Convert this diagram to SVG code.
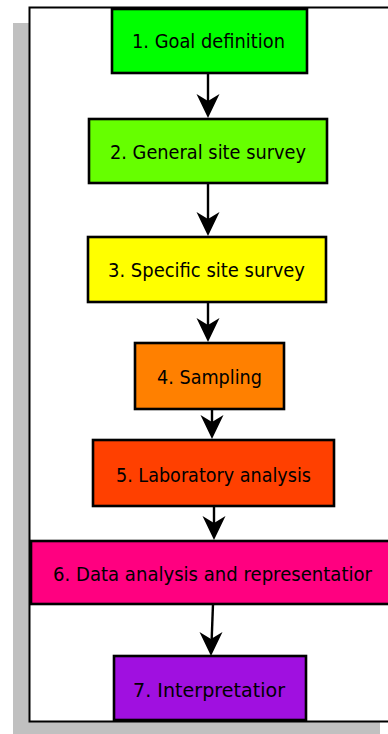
<svg xmlns="http://www.w3.org/2000/svg" width="388" height="734" viewBox="0 0 388 734">
<style>
.box{stroke:#000;stroke-width:2.6}
.lbl{font-family:"DejaVu Sans","Liberation Sans",sans-serif;font-size:19.5px;fill:#000}
.ln{stroke:#000;stroke-width:2.4;fill:none}
.hd{fill:#000}
</style>
<rect x="13" y="23" width="367" height="720" fill="#c0c0c0"/>
<rect x="29.5" y="7.5" width="370" height="714" fill="#fff" stroke="#000" stroke-width="2"/>
<g id="connectors">
<line class="ln" x1="208" y1="73" x2="208" y2="105"/>
<path class="hd" d="M208,118 L196.5,94 L208,101 L219.5,94 Z"/>
<line class="ln" x1="208" y1="183" x2="208" y2="223"/>
<path class="hd" d="M208,236 L196.5,212 L208,219 L219.5,212 Z"/>
<line class="ln" x1="208" y1="302" x2="208" y2="330"/>
<path class="hd" d="M208,342 L196.5,318 L208,325 L219.5,318 Z"/>
<line class="ln" x1="212" y1="409" x2="212" y2="428"/>
<path class="hd" d="M212,439 L200.5,415 L212,422 L223.5,415 Z"/>
<line class="ln" x1="214" y1="506" x2="214" y2="528"/>
<path class="hd" d="M214,540 L202.5,516 L214,523 L225.5,516 Z"/>
<line class="ln" x1="213" y1="604" x2="211.5" y2="644"/>
<path class="hd" d="M211,656 L199.5,632 L211,639 L222.5,632 Z"/>
</g>
<g id="n1"><rect class="box" x="112" y="9" width="195" height="64" fill="#00ff00"/><text class="lbl" x="132" y="48" textLength="153" lengthAdjust="spacingAndGlyphs">1. Goal definition</text></g>
<g id="n2"><rect class="box" x="89" y="119" width="238" height="64" fill="#66ff00"/><text class="lbl" x="110" y="159" textLength="196" lengthAdjust="spacingAndGlyphs">2. General site survey</text></g>
<g id="n3"><rect class="box" x="88" y="237" width="238" height="65" fill="#ffff00"/><text class="lbl" x="108" y="277" textLength="197" lengthAdjust="spacingAndGlyphs">3. Specific site survey</text></g>
<g id="n4"><rect class="box" x="135" y="343" width="149" height="66" fill="#ff8000"/><text class="lbl" x="157" y="384" textLength="105" lengthAdjust="spacingAndGlyphs">4. Sampling</text></g>
<g id="n5"><rect class="box" x="93" y="440" width="241" height="66" fill="#ff4000"/><text class="lbl" x="116" y="482" textLength="195" lengthAdjust="spacingAndGlyphs">5. Laboratory analysis</text></g>
<g id="n6"><rect class="box" x="31" y="541" width="370" height="63" fill="#ff0080"/><text class="lbl" x="53" y="581" textLength="319" lengthAdjust="spacingAndGlyphs">6. Data analysis and representatior</text></g>
<g id="n7"><rect class="box" x="114" y="656" width="192" height="64" fill="#a010e0"/><text class="lbl" x="133" y="697" textLength="152" lengthAdjust="spacingAndGlyphs">7. Interpretatior</text></g>
</svg>
